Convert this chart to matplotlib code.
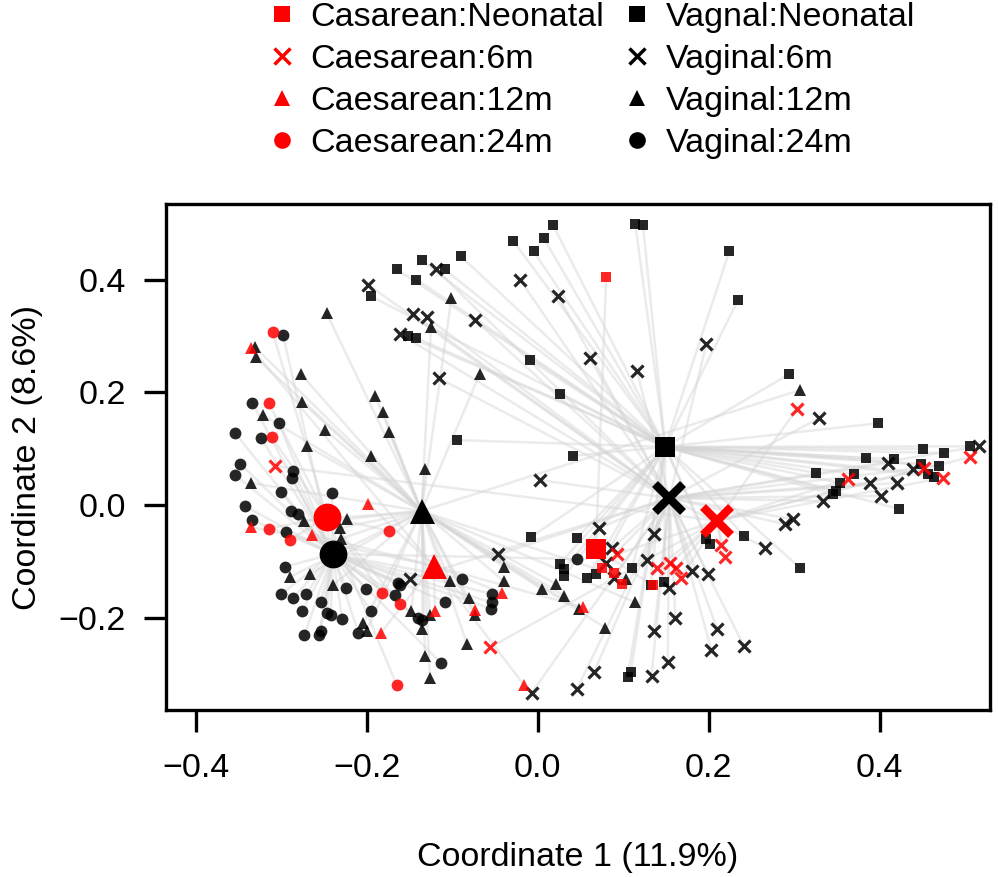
import matplotlib
matplotlib.use('Agg')
import matplotlib.pyplot as plt
from matplotlib.lines import Line2D
import numpy as np

plt.rcParams['font.family'] = ['Liberation Sans', 'DejaVu Sans']

# sample coordinates per group (PCoA axes 1 and 2)
c_neo = [(0.080, 0.405), (0.075, -0.112), (0.089, -0.120), (0.098, -0.140), (0.135, -0.143)]
c_6m = [(-0.307, 0.069), (-0.056, -0.253), (0.303, 0.170), (0.506, 0.085), (0.363, 0.046),
        (0.452, 0.065), (0.474, 0.048), (0.214, -0.071), (0.219, -0.092), (0.093, -0.087),
        (0.139, -0.112), (0.155, -0.103), (0.162, -0.112), (0.168, -0.129)]
c_12m = [(-0.335, 0.278), (-0.199, 0.002), (-0.336, -0.039), (-0.264, -0.053), (-0.042, -0.156),
         (-0.120, -0.189), (-0.073, -0.186), (-0.184, -0.228), (-0.016, -0.320), (0.053, -0.182)]
c_24m = [(-0.310, 0.306), (-0.315, 0.181), (-0.311, 0.120), (-0.314, -0.042), (-0.290, -0.062),
         (-0.174, -0.046), (-0.182, -0.156), (-0.161, -0.175), (-0.165, -0.320)]

v_neo = [(-0.195, 0.370), (-0.165, 0.418), (-0.136, 0.434), (-0.142, 0.400), (-0.109, 0.418),
         (-0.090, 0.441), (-0.152, 0.299), (-0.142, 0.296), (-0.029, 0.469), (-0.005, 0.450),
         (0.007, 0.473), (0.018, 0.496), (-0.009, 0.257), (0.026, 0.196), (-0.094, 0.115),
         (0.041, 0.087), (0.114, 0.499), (0.123, 0.497), (0.224, 0.450), (0.234, 0.363),
         (0.294, 0.232), (0.398, 0.145), (0.506, 0.104), (0.451, 0.099), (0.475, 0.092),
         (0.384, 0.083), (0.417, 0.081), (0.325, 0.057), (0.370, 0.055), (0.354, 0.039),
         (0.349, 0.025), (0.345, 0.019), (0.422, -0.007), (0.307, -0.112), (0.448, 0.073),
         (0.457, 0.055), (0.464, 0.050), (0.469, 0.069), (-0.008, -0.057), (0.046, -0.058),
         (0.026, -0.104), (0.031, -0.113), (0.031, -0.126), (0.241, -0.055), (0.197, -0.060),
         (0.201, -0.069), (0.058, -0.129), (0.068, -0.122), (0.110, -0.112), (0.132, -0.142),
         (0.148, -0.136), (0.105, -0.306), (0.109, -0.296)]
v_6m = [(-0.199, 0.391), (-0.119, 0.418), (-0.146, 0.338), (-0.130, 0.333), (-0.161, 0.303),
        (-0.074, 0.329), (-0.021, 0.400), (0.024, 0.370), (-0.116, 0.225), (0.197, 0.285),
        (0.061, 0.260), (0.116, 0.237), (0.329, 0.154), (0.516, 0.104), (0.410, 0.074),
        (0.389, 0.039), (0.420, 0.039), (0.402, 0.016), (0.334, 0.007), (0.298, -0.025),
        (0.289, -0.034), (0.439, 0.064), (0.002, 0.044), (-0.046, -0.088), (-0.149, -0.131),
        (-0.007, -0.333), (0.046, -0.326), (0.266, -0.076), (0.072, -0.041), (0.087, -0.076),
        (0.080, -0.103), (0.136, -0.051), (0.128, -0.097), (0.180, -0.117), (0.199, -0.122),
        (0.089, -0.129), (0.153, -0.147), (0.161, -0.200), (0.136, -0.224), (0.210, -0.221),
        (0.203, -0.257), (0.241, -0.250), (0.152, -0.278), (0.066, -0.296), (0.133, -0.303)]
v_12m = [(-0.247, 0.340), (-0.331, 0.280), (-0.330, 0.262), (-0.277, 0.232), (-0.276, 0.182),
         (-0.321, 0.159), (-0.249, 0.133), (-0.270, 0.104), (-0.195, 0.087), (-0.101, 0.368),
         (-0.125, 0.315), (-0.068, 0.232), (-0.190, 0.193), (-0.181, 0.165), (-0.174, 0.129),
         (-0.132, 0.064), (-0.336, 0.039), (-0.223, -0.025), (-0.274, -0.028), (-0.231, -0.041),
         (-0.230, -0.060), (-0.290, -0.128), (-0.266, -0.122), (-0.240, -0.143), (-0.204, -0.209),
         (-0.200, -0.223), (-0.039, -0.110), (-0.103, -0.135), (-0.040, -0.135), (0.005, -0.150),
         (0.021, -0.140), (0.031, -0.161), (-0.081, -0.166), (-0.148, -0.189), (-0.126, -0.196),
         (-0.074, -0.196), (-0.136, -0.221), (-0.083, -0.246), (-0.132, -0.269), (-0.126, -0.308),
         (0.103, -0.131), (0.114, -0.173), (0.048, -0.184), (0.079, -0.218), (0.307, 0.204)]
v_24m = [(-0.298, 0.301), (-0.334, 0.181), (-0.303, 0.145), (-0.354, 0.127), (-0.324, 0.119),
         (-0.348, 0.073), (-0.354, 0.053), (-0.286, 0.060), (-0.288, 0.048), (-0.301, 0.023),
         (-0.241, 0.021), (-0.343, -0.002), (-0.289, -0.011), (-0.280, -0.016), (-0.334, -0.027),
         (-0.295, -0.048), (-0.296, -0.110), (-0.224, -0.147), (-0.201, -0.149), (-0.300, -0.158),
         (-0.286, -0.165), (-0.271, -0.158), (-0.254, -0.173), (-0.276, -0.189), (-0.247, -0.191),
         (-0.242, -0.195), (-0.229, -0.202), (-0.195, -0.189), (-0.254, -0.223), (-0.256, -0.230),
         (-0.273, -0.230), (-0.210, -0.227), (-0.163, -0.138), (-0.161, -0.143), (-0.167, -0.159),
         (-0.089, -0.131), (-0.054, -0.158), (-0.054, -0.173), (-0.055, -0.184), (-0.108, -0.172),
         (-0.140, -0.200), (-0.136, -0.204), (-0.113, -0.281), (0.046, -0.096)]

# group centroids
centroids = {
    'c_neo': (0.068, -0.078), 'c_6m': (0.210, -0.028), 'c_12m': (-0.122, -0.108), 'c_24m': (-0.247, -0.021),
    'v_neo': (0.149, 0.103), 'v_6m': (0.154, 0.012), 'v_12m': (-0.136, -0.011), 'v_24m': (-0.240, -0.087),
}

labels = ['Casarean:Neonatal', 'Caesarean:6m', 'Caesarean:12m', 'Caesarean:24m',
          'Vagnal:Neonatal', 'Vaginal:6m', 'Vaginal:12m', 'Vaginal:24m']

# name, points, colour, marker, small size (pt), centroid size (pt)
groups = [
    ('v_neo', v_neo, 'black', 's', 7.5, 14),
    ('v_6m', v_6m, 'black', 'x', 8, 20),
    ('v_12m', v_12m, 'black', '^', 8.5, 18),
    ('v_24m', v_24m, 'black', 'o', 8.5, 20),
    ('c_neo', c_neo, 'red', 's', 7.5, 14.5),
    ('c_6m', c_6m, 'red', 'x', 8, 20),
    ('c_12m', c_12m, 'red', '^', 8.5, 18),
    ('c_24m', c_24m, 'red', 'o', 8.5, 20),
]

FS = 24.5

fig = plt.figure(figsize=(9.98, 8.77), dpi=100)
ax = fig.add_axes([0.1663, 0.1904, 0.8257, 0.577])

# spider lines from each sample to its centroid
for name, pts, col, mk, ms, cms in groups:
    cx, cy = centroids[name]
    for x, y in pts:
        ax.plot([x, cx], [y, cy], color='#d4d4d4', lw=1.8, alpha=0.45, zorder=1)

for name, pts, col, mk, ms, cms in groups:
    arr = np.array(pts)
    if mk == 'x':
        ax.plot(arr[:, 0], arr[:, 1], ls='none', marker='x', ms=ms, mew=2.3,
                color=col, alpha=0.85, zorder=2)
    else:
        ax.plot(arr[:, 0], arr[:, 1], ls='none', marker=mk, ms=ms, mew=0,
                color=col, alpha=0.85, zorder=2)

for name, pts, col, mk, ms, cms in groups:
    cx, cy = centroids[name]
    if mk == 'x':
        ax.plot(cx, cy, ls='none', marker='x', ms=cms, mew=6, color=col, zorder=4)
    else:
        ax.plot(cx, cy, ls='none', marker=mk, ms=cms, mew=0, color=col, zorder=4)

ax.set_xlim(-0.435, 0.529)
ax.set_ylim(-0.364, 0.534)
ax.set_xticks([-0.4, -0.2, 0.0, 0.2, 0.4])
ax.set_yticks([-0.2, 0.0, 0.2, 0.4])
ax.set_xticklabels(['\u22120.4', '\u22120.2', '0.0', '0.2', '0.4'])
ax.set_yticklabels(['\u22120.2', '0.0', '0.2', '0.4'])
ax.tick_params(axis='both', direction='out', length=16, width=2.4, labelsize=FS)
ax.tick_params(axis='x', pad=15)
ax.tick_params(axis='y', pad=13)
for s in ax.spines.values():
    s.set_linewidth(2.4)

ax.set_xlabel('Coordinate 1 (11.9%)', fontsize=FS, labelpad=42)
ax.set_ylabel('Coordinate 2 (8.6%)', fontsize=FS, labelpad=11)

# legend: caesarean in the left column, vaginal in the right
handles = []
for name, pts, col, mk, ms, cms in groups[4:] + groups[:4]:
    if mk == 'x':
        handles.append(Line2D([], [], ls='none', marker='x', ms=11, mew=2.5, color=col))
    else:
        handles.append(Line2D([], [], ls='none', marker=mk, ms=12, mew=0, color=col))
fig.legend(handles, labels, ncol=2, loc='upper center', bbox_to_anchor=(0.592, 1.017),
           frameon=False, fontsize=FS, handlelength=0.9, handletextpad=0.4,
           columnspacing=0.5, labelspacing=0.32, borderpad=0)

fig.savefig('out.png', dpi=100)
